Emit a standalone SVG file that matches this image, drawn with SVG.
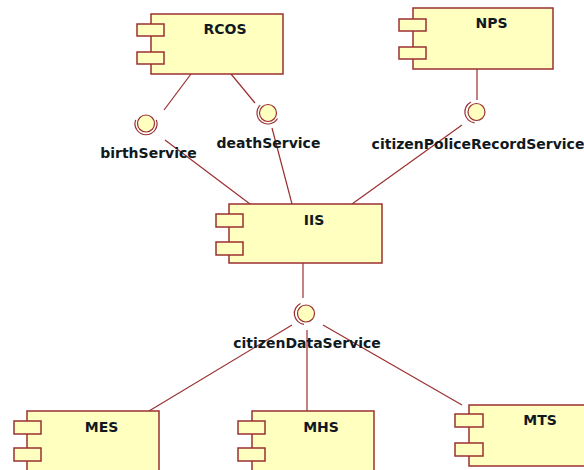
<svg xmlns="http://www.w3.org/2000/svg" xmlns:xlink="http://www.w3.org/1999/xlink" width="584" height="470" viewBox="0 0 584 470">
  <style>
    .body { fill: #ffffc0; stroke: #9b3030; stroke-width: 1.5; }
    .port { fill: #ffffc0; stroke: #9b3030; stroke-width: 1.5; }
    .conn { stroke: #9b3030; stroke-width: 1.2; fill: none; }
    .socket { stroke: #9b3030; stroke-width: 1.2; fill: none; }
    .ball { fill: #ffffc0; stroke: #9b3030; stroke-width: 1.2; }
    .name { font-family: "DejaVu Sans", "Liberation Sans", sans-serif; font-weight: bold; font-size: 14px; fill: #101820; text-anchor: middle; }
  </style>

  <!-- connectors -->
  <g id="connectors">
    <line class="conn" x1="191" y1="74" x2="164" y2="110"/>
    <line class="conn" x1="231" y1="74" x2="255" y2="103"/>
    <line class="conn" x1="165" y1="140" x2="250" y2="204"/>
    <line class="conn" x1="272" y1="128" x2="292" y2="204"/>
    <line class="conn" x1="477" y1="69" x2="477" y2="100"/>
    <line class="conn" x1="462" y1="125" x2="352" y2="204"/>
    <line class="conn" x1="303" y1="263" x2="303" y2="298"/>
    <line class="conn" x1="292" y1="325" x2="149" y2="411"/>
    <line class="conn" x1="307" y1="330" x2="307" y2="411"/>
    <line class="conn" x1="323" y1="325" x2="462" y2="405"/>
  </g>

  <!-- interfaces: ball plus socket arc -->
  <g id="birthService">
    <path class="socket" d="M 135.7 119.9 A 11 11 0 1 0 156.3 119.9"/>
    <circle class="ball" cx="146" cy="123.5" r="8.5"/>
    <text class="name" x="148.5" y="158">birthService</text>
  </g>
  <g id="deathService">
    <path class="socket" d="M 260.2 105.2 A 11 11 0 1 0 277.5 118.5"/>
    <circle class="ball" cx="268" cy="113" r="8.5"/>
    <text class="name" x="268.5" y="148">deathService</text>
  </g>
  <g id="citizenPoliceRecordService">
    <path class="socket" d="M 471 102 A 11 11 0 0 0 474.5 122.8"/>
    <circle class="ball" cx="476.5" cy="112" r="8.5"/>
    <text class="name" x="478" y="149">citizenPoliceRecordService</text>
  </g>
  <g id="citizenDataService">
    <path class="socket" d="M 300.5 303.5 A 11 11 0 0 0 304 324.3"/>
    <circle class="ball" cx="306" cy="313.5" r="8.5"/>
    <text class="name" x="307" y="348">citizenDataService</text>
  </g>

  <!-- components -->
  <g id="RCOS">
    <rect class="body" x="151" y="14" width="132" height="60"/>
    <rect class="port" x="137" y="24" width="27" height="12"/>
    <rect class="port" x="137" y="52" width="27" height="12"/>
    <text class="name" x="225" y="34">RCOS</text>
  </g>
  <g id="NPS">
    <rect class="body" x="413" y="8" width="140" height="61"/>
    <rect class="port" x="399" y="19" width="27" height="12"/>
    <rect class="port" x="399" y="47" width="27" height="12"/>
    <text class="name" x="491.5" y="28">NPS</text>
  </g>
  <g id="IIS">
    <rect class="body" x="229" y="204" width="153" height="59"/>
    <rect class="port" x="216" y="214" width="27" height="13"/>
    <rect class="port" x="216" y="242" width="27" height="13"/>
    <text class="name" x="314" y="225">IIS</text>
  </g>
  <g id="MES">
    <rect class="body" x="27" y="411" width="132" height="70"/>
    <rect class="port" x="14" y="421" width="27" height="13"/>
    <rect class="port" x="14" y="448" width="27" height="13"/>
    <text class="name" x="101.5" y="432">MES</text>
  </g>
  <g id="MHS">
    <rect class="body" x="252" y="411" width="122" height="70"/>
    <rect class="port" x="238" y="421" width="27" height="13"/>
    <rect class="port" x="238" y="448" width="27" height="13"/>
    <text class="name" x="321" y="432">MHS</text>
  </g>
  <g id="MTS">
    <rect class="body" x="469" y="405" width="140" height="61"/>
    <rect class="port" x="455" y="414" width="28" height="13"/>
    <rect class="port" x="455" y="443" width="28" height="13"/>
    <text class="name" x="540" y="425">MTS</text>
  </g>
</svg>
